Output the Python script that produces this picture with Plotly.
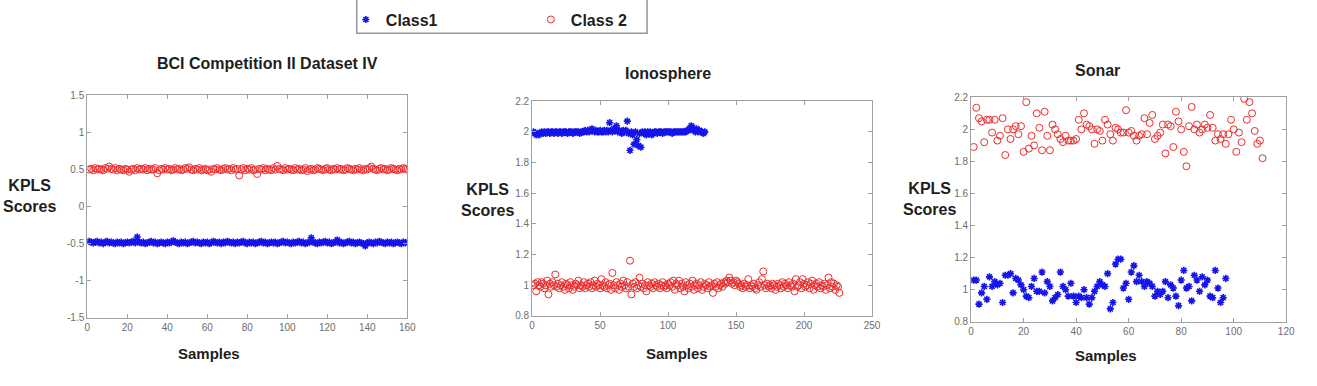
import plotly.graph_objects as go

W, H = 1317, 386

# ---------------- data ----------------
BCI_CLASS1 = [
    -0.47,-0.48,-0.49,-0.48,-0.47,-0.49,-0.48,-0.50,-0.48,-0.47,-0.49,-0.48,-0.49,-0.50,-0.48,-0.49,-0.48,-0.50,-0.49,-0.48,
    -0.49,-0.48,-0.47,-0.49,-0.41,-0.48,-0.49,-0.48,-0.50,-0.49,-0.48,-0.47,-0.49,-0.48,-0.50,-0.49,-0.48,-0.49,-0.50,-0.48,
    -0.49,-0.48,-0.46,-0.48,-0.49,-0.50,-0.48,-0.49,-0.48,-0.50,-0.49,-0.48,-0.47,-0.49,-0.48,-0.49,-0.50,-0.48,-0.49,-0.48,
    -0.50,-0.49,-0.47,-0.48,-0.49,-0.48,-0.50,-0.48,-0.49,-0.47,-0.48,-0.49,-0.48,-0.50,-0.48,-0.49,-0.48,-0.47,-0.49,-0.50,
    -0.48,-0.49,-0.48,-0.50,-0.49,-0.48,-0.47,-0.49,-0.48,-0.50,-0.49,-0.48,-0.49,-0.48,-0.50,-0.49,-0.48,-0.47,-0.49,-0.48,
    -0.49,-0.50,-0.48,-0.49,-0.48,-0.47,-0.49,-0.48,-0.50,-0.49,-0.48,-0.42,-0.48,-0.49,-0.50,-0.48,-0.49,-0.48,-0.47,-0.49,
    -0.48,-0.50,-0.49,-0.48,-0.45,-0.49,-0.48,-0.50,-0.49,-0.48,-0.47,-0.49,-0.48,-0.50,-0.49,-0.48,-0.49,-0.50,-0.53,-0.49,
    -0.48,-0.49,-0.50,-0.48,-0.49,-0.47,-0.48,-0.49,-0.50,-0.48,-0.49,-0.48,-0.50,-0.49,-0.48,-0.49,-0.50,-0.48,-0.49,-0.48,
]
BCI_CLASS2 = [
    0.50,0.51,0.49,0.52,0.50,0.51,0.50,0.49,0.52,0.51,0.54,0.51,0.50,0.52,0.49,0.51,0.50,0.49,0.51,0.50,
    0.47,0.50,0.51,0.49,0.52,0.50,0.51,0.50,0.52,0.49,0.51,0.50,0.50,0.52,0.45,0.49,0.51,0.50,0.52,0.50,
    0.51,0.49,0.50,0.52,0.50,0.51,0.49,0.50,0.52,0.51,0.53,0.50,0.49,0.51,0.50,0.52,0.49,0.50,0.51,0.49,
    0.50,0.47,0.51,0.50,0.52,0.50,0.49,0.51,0.52,0.50,0.51,0.49,0.52,0.50,0.51,0.42,0.50,0.52,0.49,0.51,
    0.50,0.52,0.49,0.50,0.44,0.51,0.50,0.52,0.49,0.51,0.50,0.49,0.52,0.50,0.55,0.51,0.50,0.49,0.52,0.50,
    0.51,0.50,0.49,0.52,0.50,0.51,0.49,0.50,0.52,0.48,0.50,0.51,0.49,0.50,0.52,0.51,0.50,0.49,0.51,0.52,
    0.50,0.49,0.51,0.50,0.52,0.50,0.51,0.49,0.50,0.52,0.51,0.50,0.49,0.51,0.50,0.52,0.50,0.49,0.51,0.50,
    0.52,0.54,0.51,0.50,0.49,0.51,0.52,0.50,0.51,0.49,0.50,0.52,0.51,0.50,0.49,0.51,0.50,0.52,0.51,0.50,
]
IONO_CLASS1 = [
    2.00,1.99,1.98,1.99,1.98,1.99,2.00,1.99,2.00,1.99,2.00,2.00,1.99,2.00,2.00,1.99,2.00,2.00,1.99,2.00,
    2.00,1.99,2.00,2.00,2.00,1.99,2.00,2.00,2.00,1.99,2.00,2.00,2.00,2.00,1.99,2.00,2.00,2.00,2.01,2.00,
    2.01,2.00,2.01,2.02,2.01,2.00,2.01,2.00,2.00,2.01,2.00,2.00,2.01,2.00,2.01,2.00,2.06,2.01,2.00,2.02,
    2.01,2.04,2.00,2.01,2.00,1.99,2.01,2.00,2.01,2.07,1.99,1.88,2.00,1.98,1.92,2.00,1.95,1.91,1.99,1.90,
    2.00,1.99,2.00,1.98,2.00,1.99,2.00,1.98,1.99,2.00,2.00,1.99,2.00,2.00,2.00,1.99,2.00,2.00,2.00,2.00,
    2.00,2.00,1.99,2.00,2.00,2.00,2.00,2.00,2.00,2.00,2.00,2.00,2.00,2.01,2.01,2.02,2.04,2.03,2.01,2.00,
    2.02,2.00,2.01,2.00,2.00,1.99,2.00,
]
IONO_CLASS2 = [
    1.00,1.01,0.96,1.02,1.00,0.99,1.02,1.01,0.98,1.00,1.03,0.94,1.01,0.99,1.02,1.00,1.07,0.99,1.01,0.98,
    1.00,1.02,0.99,0.97,1.01,1.00,0.98,1.02,1.00,0.97,0.99,1.01,1.00,1.03,0.98,1.00,0.99,1.02,0.98,1.00,
    1.01,0.99,1.02,0.98,1.00,1.03,0.99,1.01,1.00,0.98,1.04,1.00,0.99,1.02,0.98,1.00,1.01,0.97,1.08,1.00,
    0.98,1.02,1.00,0.97,1.01,0.99,1.03,1.00,0.98,1.02,0.99,1.16,0.94,1.01,0.99,1.02,0.98,1.00,1.05,0.99,
    1.01,0.98,1.00,0.96,1.02,1.00,0.99,1.01,0.98,1.02,1.00,0.99,1.01,0.98,1.00,1.02,0.99,1.00,0.98,1.01,
    1.00,1.02,0.99,1.03,0.97,1.01,1.00,1.03,0.98,1.01,0.99,0.96,1.02,1.00,0.98,1.01,0.99,1.03,0.97,1.00,
    1.01,0.98,1.00,1.02,0.97,0.99,1.01,1.00,0.98,1.02,0.99,1.00,0.95,1.01,0.99,1.02,0.98,1.00,1.01,0.99,
    1.02,1.01,1.03,1.02,1.05,1.03,1.01,1.02,1.00,1.03,1.02,1.01,0.99,1.00,0.98,1.01,0.99,1.00,1.04,0.98,
    1.00,0.99,1.01,0.98,0.97,1.00,1.02,0.99,1.04,1.09,1.00,0.98,1.01,0.99,1.00,0.98,1.01,1.00,0.97,0.99,
    1.01,1.00,0.98,1.02,0.99,1.01,1.00,0.98,1.02,1.00,0.99,1.01,0.96,1.04,0.99,1.00,1.02,0.98,1.04,1.01,
    0.99,1.00,1.02,0.98,1.01,1.03,0.97,1.00,1.01,0.99,1.02,0.98,1.00,0.99,1.01,0.97,1.00,1.05,0.98,1.02,
    0.99,1.01,0.97,1.00,0.99,0.95,
]
SONAR_CLASS1 = [
    1.06,1.06,0.91,0.98,1.02,0.94,1.08,1.02,1.05,1.03,1.04,0.92,1.09,1.09,1.10,0.98,1.07,1.06,1.03,1.00,
    0.96,0.95,1.02,1.07,0.99,0.99,1.11,0.98,1.05,1.02,0.93,0.95,0.97,1.11,1.02,1.00,0.96,1.04,0.96,0.92,
    0.96,0.95,1.00,0.95,0.91,0.95,0.99,1.02,1.05,1.03,1.02,1.10,0.88,0.92,1.16,1.19,1.19,1.01,1.04,0.94,
    1.11,1.15,1.05,1.09,1.05,1.02,1.05,1.04,1.02,0.96,0.99,0.97,0.99,1.05,0.95,1.03,1.01,0.96,0.90,1.06,
    1.12,1.01,1.02,0.93,1.09,1.06,0.99,1.08,1.03,1.06,0.96,0.95,1.12,1.01,0.92,0.95,1.07,
]
SONAR_CLASS2 = [
    1.89,2.135,2.07,2.05,1.92,2.06,2.06,1.98,2.06,1.93,1.96,2.07,1.84,2.00,1.94,2.00,2.02,1.97,2.02,1.86,
    2.17,1.88,1.96,1.90,2.10,2.01,1.87,2.11,1.96,1.87,2.03,2.00,1.97,1.94,1.92,1.96,1.93,1.93,1.93,1.94,
    2.06,2.00,2.10,2.03,2.02,2.00,1.91,2.00,1.99,1.93,2.06,2.03,1.97,1.93,2.01,2.00,1.98,1.98,2.12,1.98,
    1.99,1.96,1.93,1.96,1.97,2.07,1.97,2.04,2.09,1.94,1.96,1.98,2.03,1.85,2.03,2.02,1.89,2.11,2.05,2.00,
    1.86,1.77,2.02,2.14,2.00,2.03,1.98,2.00,2.03,2.01,2.09,2.01,1.93,1.97,1.94,1.97,1.91,1.97,2.06,2.00,
    1.86,1.98,1.92,2.19,2.06,2.17,2.10,1.99,1.91,1.93,1.82,
]

TITLES = ["BCI Competition II Dataset IV", "Ionosphere", "Sonar"]
SERIES_NAMES = ["Class1", "Class 2"]
BCI_YTICKS = [-1.5, -1, -0.5, 0, 0.5, 1, 1.5]
BCI_YTICKTEXT = ["-1.5", "-1", "-0.5", "0", "0.5", "1", "1.5"]
KPLS_YTICKS = [0.8, 1.0, 1.2, 1.4, 1.6, 1.8, 2.0, 2.2]
KPLS_YTICKTEXT = ["0.8", "1", "1.2", "1.4", "1.6", "1.8", "2", "2.2"]

# ---------------- layout helpers ----------------
def px_x(p):
    return p / W

def px_y(p):
    return 1 - p / H

FONT = "Arial, Liberation Sans, sans-serif"
TXT = "rgb(30,30,30)"
BLUE = "rgb(20,20,235)"
RED = "rgb(235,45,45)"
AXIS_GRAY = "rgb(160,160,160)"
TICK_FONT = dict(family=FONT, size=10, color="rgb(110,110,110)")

panels = [
    dict(data=(BCI_CLASS1, BCI_CLASS2), xr=[0, 160], xd=20, yr=[-1.5, 1.5],
         yt=BCI_YTICKS, ytt=BCI_YTICKTEXT, box=(85, 408, 92, 321),
         title=(267, 59), ylab=(27, 196), xlab=(208, 358)),
    dict(data=(IONO_CLASS1, IONO_CLASS2), xr=[0, 250], xd=50, yr=[0.8, 2.2],
         yt=KPLS_YTICKS, ytt=KPLS_YTICKTEXT, box=(534, 877, 98, 319),
         title=(671, 69), ylab=(489, 200), xlab=(680, 358)),
    dict(data=(SONAR_CLASS1, SONAR_CLASS2), xr=[0, 120], xd=20, yr=[0.8, 2.2],
         yt=KPLS_YTICKS, ytt=KPLS_YTICKTEXT, box=(977, 1295, 94, 325),
         title=(1105, 66), ylab=(935, 199), xlab=(1113, 360)),
]

fig = go.Figure()
annotations = []
for i, p in enumerate(panels):
    n = "" if i == 0 else str(i + 1)
    c1, c2 = p["data"]
    fig.add_trace(go.Scatter(
        x=list(range(1, len(c1) + 1)), y=c1, mode="markers", name=SERIES_NAMES[0],
        xaxis="x" + n, yaxis="y" + n, showlegend=(i == 0),
        marker=dict(symbol="asterisk-open", size=6, color=BLUE,
                    line=dict(color=BLUE, width=1.6)),
    ))
    fig.add_trace(go.Scatter(
        x=list(range(1, len(c2) + 1)), y=c2, mode="markers", name=SERIES_NAMES[1],
        xaxis="x" + n, yaxis="y" + n, showlegend=(i == 0),
        marker=dict(symbol="circle-open", size=7, color=RED,
                    line=dict(color=RED, width=1)),
    ))
    l, r, t, b = p["box"]
    common = dict(showline=True, linecolor=AXIS_GRAY, linewidth=1, mirror="allticks",
                  ticks="inside", ticklen=4, tickcolor=AXIS_GRAY, showgrid=False,
                  zeroline=False, tickfont=TICK_FONT)
    fig.update_layout(**{
        "xaxis" + n: dict(domain=[px_x(l), px_x(r)], range=p["xr"], dtick=p["xd"],
                          tick0=0, anchor="y" + n, **common),
        "yaxis" + n: dict(domain=[px_y(b), px_y(t)], range=p["yr"], tickvals=p["yt"],
                          ticktext=p["ytt"], anchor="x" + n, **common),
    })
    annotations.append(dict(text="<b>%s</b>" % TITLES[i], x=px_x(p["title"][0]),
                            y=px_y(p["title"][1]), xref="paper", yref="paper",
                            showarrow=False, xanchor="center", yanchor="middle",
                            font=dict(family=FONT, size=16, color=TXT)))
    annotations.append(dict(text="<b>KPLS<br>Scores</b>", x=px_x(p["ylab"][0]),
                            y=px_y(p["ylab"][1]), xref="paper", yref="paper",
                            showarrow=False, xanchor="center", yanchor="middle",
                            align="center",
                            font=dict(family=FONT, size=16, color=TXT)))
    annotations.append(dict(text="<b>Samples</b>", x=px_x(p["xlab"][0]),
                            y=px_y(p["xlab"][1]), xref="paper", yref="paper",
                            showarrow=False, xanchor="center", yanchor="middle",
                            font=dict(family=FONT, size=15, color=TXT)))

fig.update_layout(
    width=W, height=H, margin=dict(l=0, r=0, t=0, b=0),
    paper_bgcolor="white", plot_bgcolor="white",
    annotations=annotations,
    shapes=[dict(type="rect", xref="paper", yref="paper",
                 x0=px_x(357), x1=px_x(650), y0=px_y(28), y1=px_y(-10),
                 line=dict(color="rgb(150,150,150)", width=1.5))],
    legend=dict(orientation="h", x=px_x(346), y=px_y(14), xanchor="left",
                yanchor="middle", bgcolor="rgba(0,0,0,0)", borderwidth=0,
                entrywidth=140, entrywidthmode="pixels", itemsizing="trace",
                font=dict(family=FONT, size=16, color=TXT, weight="bold")),
)
fig.write_html("out.html")
